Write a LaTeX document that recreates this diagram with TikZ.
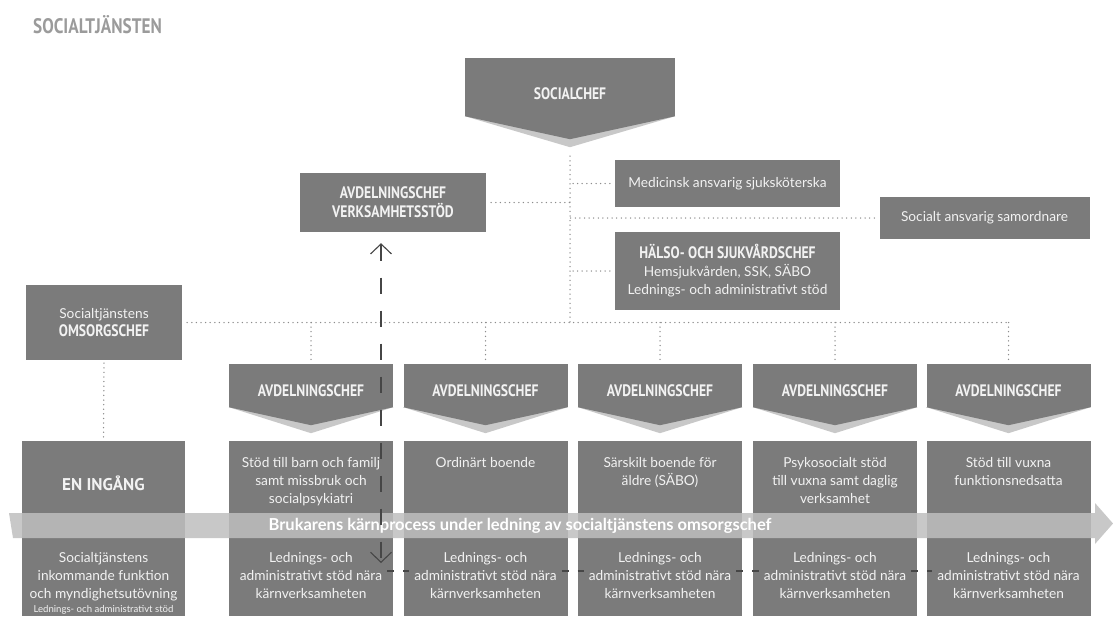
\documentclass[tikz,border=0pt]{standalone}
\usepackage{fontspec}
\setmainfont{Lato}
\newfontfamily\headfont[FakeStretch=0.82]{PT Sans}
\newfontfamily\wideheadfont{PT Sans}
\usepackage{tikz}
\usetikzlibrary{arrows.meta,calc,positioning}
\definecolor{boxgray}{RGB}{123,123,123}
\definecolor{boxtext}{RGB}{242,242,242}
\definecolor{lipgray}{RGB}{200,200,200}
\definecolor{dotgray}{RGB}{140,140,140}
\definecolor{bandgray}{RGB}{190,190,190}
\definecolor{linegray}{RGB}{70,70,70}
\definecolor{titlegray}{RGB}{155,155,155}
\tikzset{
    x=1pt, y=-1pt,
    box/.style = {rectangle, fill=boxgray, text=boxtext, inner sep=0pt, align=center,
                  font=\fontsize{13.7}{18}\selectfont},
    head/.style = {box, font=\headfont\bfseries\fontsize{16.6}{19}\selectfont},
    chev/.style = {head, minimum width=164pt, minimum height=43pt, text height=22pt, text depth=0pt},
    col/.style = {box, minimum width=164pt, minimum height=175pt},
    coltext/.style = {inner sep=0pt, align=center, text=boxtext, font=\fontsize{13.7}{18}\selectfont},
    dots/.style = {dotgray, line width=1.5pt, dash pattern=on 0pt off 4.6pt, line cap=round},
    supportarrow/.style = {{Straight Barb[length=10pt,width=21pt]}-{Straight Barb[length=10pt,width=21pt]},
                  linegray, line width=1.1pt, dash pattern=on 16pt off 17pt},
    linkdash/.style = {linegray, line width=1.1pt, dash pattern=on 7pt off 9pt},
    bandtext/.style = {inner sep=0pt, text=white, font=\bfseries\fontsize{16.5}{19}\selectfont}
}
\begin{document}
\begin{tikzpicture}
    \useasboundingbox (0,0) rectangle (1113,616);
    \node[anchor=west, inner sep=0pt, text=titlegray, font=\headfont\bfseries\fontsize{21}{24}\selectfont]
        (title) at (33,25) {SOCIALTJÄNSTEN};

    % ledning
    \node[head, minimum width=210pt, minimum height=58pt, text height=25pt, text depth=0pt]
        (sc) at (570,87) {SOCIALCHEF};
    \node[head, minimum width=186pt, minimum height=59pt] (vs) at (393,202.5) {AVDELNINGSCHEF\\VERKSAMHETSSTÖD};
    \node[box, minimum width=225pt, minimum height=47pt] (med) at (727.5,183.5) {Medicinsk ansvarig sjuksköterska};
    \node[box, minimum width=210pt, minimum height=42pt] (soc) at (984.5,218) {Socialt ansvarig samordnare};
    \node[box, minimum width=225pt, minimum height=78pt] (hal) at (727.5,271)
        {{\headfont\bfseries\fontsize{16.6}{19}\selectfont HÄLSO- OCH SJUKVÅRDSCHEF}\\Hemsjukvården, SSK, SÄBO\\Lednings- och administrativt stöd};
    \node[box, minimum width=156pt, minimum height=75pt] (oms) at (104,322.5)
        {Socialtjänstens\\{\headfont\bfseries\fontsize{16.6}{19}\selectfont OMSORGSCHEF}};

    % en ingång
    \node[col, minimum width=163pt] (c0) at (103.5,528.5) {};
    \node[coltext, font=\wideheadfont\bfseries\fontsize{17}{19}\selectfont, below=35pt of c0.north] (t0) {EN INGÅNG};
    \node[coltext, below=111.5pt of c0.north] (b0)
        {Socialtjänstens\\inkommande funktion\\och myndighetsutövning\\[-4pt]{\fontsize{9.6}{12}\selectfont Lednings- och administrativt stöd}};

    % avdelningar
    \foreach \i/\x/\txt in {1/311/{Stöd till barn och familj\\samt missbruk och\\socialpsykiatri},
                            2/485.5/{Ordinärt boende},
                            3/660/{Särskilt boende för\\äldre (SÄBO)},
                            4/835/{Psykosocialt stöd\\till vuxna samt daglig\\verksamhet},
                            5/1008.5/{Stöd till vuxna\\funktionsnedsatta}} {
        \node[chev] (a\i) at (\x,385.5) {AVDELNINGSCHEF};
        \node[col] (c\i) at (\x,528.5) {};
        \node[coltext, below=16pt of c\i.north] (t\i) {\txt};
        \node[coltext, below=111.5pt of c\i.north] (b\i) {Lednings- och\\administrativt stöd nära\\kärnverksamheten};
    }
    \foreach \n/\tip in {sc/23, a1/18, a2/18, a3/18, a4/18, a5/18} {
        \fill[lipgray] (\n.south west) -- ($(\n.south)+(0,\tip+8)$) -- (\n.south east) -- cycle;
        \fill[boxgray] (\n.south west) -- ($(\n.south)+(0,\tip)$) -- (\n.south east) -- cycle;
    }

    % kärnprocess
    \fill[bandgray, opacity=0.85] (9,513) -- (1095,513) -- (1095,503) -- (1113,523.5)
        -- (1095,544) -- (1095,538) -- (13,538) -- cycle;
    \node[bandtext] (band) at (520,525.5) {Brukarens kärnprocess under ledning av socialtjänstens omsorgschef};

    % linjer
    \draw[dots] ([yshift=-40pt]sc.south) -- (sc.south |- oms.east);
    \draw[dots, shorten <=5pt] (vs.east) -- (vs.east -| sc.south);
    \draw[dots, shorten <=5pt] (med.west) -- (med.west -| sc.south);
    \draw[dots, shorten <=5pt] (soc.west) -- (soc.west -| sc.south);
    \draw[dots, shorten <=5pt] (hal.west) -- (hal.west -| sc.south);
    \draw[dots, shorten <=5pt] (oms.east) -- (oms.east -| a5.north);
    \foreach \i in {1,...,5}
        \draw[dots, shorten >=3pt] (a\i.north |- oms.east) -- (a\i.north);
    \draw[dots, shorten <=3pt, shorten >=3pt] (oms.south) -- (c0.north);

    \foreach \i/\j in {1/2, 2/3, 3/4, 4/5}
        \draw[linkdash] ([shift={(-6pt,-42.5pt)}]c\i.east) -- ([shift={(6pt,-42.5pt)}]c\j.west);

    \coordinate (stod) at (381,563);
    \draw[supportarrow] ([shift={(-12pt,-11pt)}]vs.south) -- (stod);
\end{tikzpicture}
\end{document}
